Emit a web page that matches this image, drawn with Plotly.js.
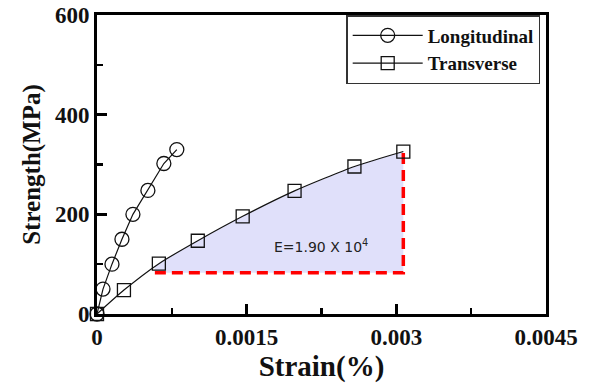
<!DOCTYPE html>
<html>
<head>
<meta charset="utf-8">
<script src="https://cdn.plot.ly/plotly-3.0.1.min.js"></script>
<style>html,body{margin:0;padding:0;background:#fff;}#chart{width:593px;height:383px;}</style>
</head>
<body>
<div id="chart"></div>
<script>
// Longitudinal series
const longStrain = [0, 0.00006, 0.00015, 0.00025, 0.00036, 0.00051, 0.00067, 0.0008];
const longStrength = [0, 50, 100, 150, 200, 248, 302, 330];
// Transverse series
const transStrain = [0, 0.00027, 0.00062, 0.00101, 0.00146, 0.00198, 0.00258, 0.00307];
const transStrength = [0, 48, 101, 147, 196, 247, 296, 326];
// Modulus triangle (red dashed) corners
const triStartStrain = 0.00058;
const triBaseStrength = 83;
const modulusLabel = 'E=1.90 X 10<sup>4</sup>';
// Tick labels
const xTickVals = [0, 0.0015, 0.003, 0.0045];
const xTickText = ['0', '0.0015', '0.003', '0.0045'];
const yTickVals = [0, 200, 400, 600];
const yTickText = ['0', '200', '400', '600'];

// build shaded region from transverse data
const last = transStrain.length - 1;
let i0 = transStrain.findIndex(v => v >= triStartStrain);
const startY = transStrength[i0-1] + (transStrength[i0]-transStrength[i0-1])*(triStartStrain-transStrain[i0-1])/(transStrain[i0]-transStrain[i0-1]);
const shadeX = [triStartStrain].concat(transStrain.slice(i0)).concat([transStrain[last], triStartStrain]);
const shadeY = [startY].concat(transStrength.slice(i0)).concat([triBaseStrength, triBaseStrength]);

const serif = '"Liberation Serif", "Times New Roman", serif';

const traces = [
  {x: shadeX, y: shadeY, type: 'scatter', mode: 'lines', fill: 'toself',
   fillcolor: 'rgba(224,224,250,1)', line: {width: 0}, hoverinfo: 'skip', showlegend: false},
  {x: [triStartStrain, transStrain[last], transStrain[last]], y: [triBaseStrength, triBaseStrength, transStrength[last]],
   type: 'scatter', mode: 'lines', line: {color: '#ff0000', width: 3.5, dash: '11px,6px'}, showlegend: false, hoverinfo: 'skip'},
  {x: longStrain, y: longStrength, name: 'Longitudinal', type: 'scatter', mode: 'lines+markers',
   line: {color: '#111', width: 1.2},
   marker: {symbol: 'circle-open', size: 14, color: '#111', line: {width: 1.3}}, cliponaxis: false},
  {x: transStrain, y: transStrength, name: 'Transverse', type: 'scatter', mode: 'lines+markers',
   line: {color: '#111', width: 1.2, shape: 'spline', smoothing: 0.6},
   marker: {symbol: 'square-open', size: 13, color: '#111', line: {width: 1.3}}, cliponaxis: false}
];

const layout = {
  width: 593, height: 383,
  margin: {l: 97, r: 47, t: 15, b: 69},
  paper_bgcolor: '#fff', plot_bgcolor: '#fff',
  showlegend: true,
  legend: {x: 0.555, y: 1, xanchor: 'left', yanchor: 'top', bordercolor: '#333', borderwidth: 1.5,
           bgcolor: '#fff', font: {family: serif, size: 19, color: '#111', weight: 'bold'},
           itemwidth: 70, tracegroupgap: 0},
  xaxis: {range: [0, 0.0045], tickvals: xTickVals, ticktext: xTickText,
          ticks: 'inside', ticklen: 10, tickwidth: 2.5, tickcolor: '#000',
          showline: true, linewidth: 3, linecolor: '#000', mirror: true, showgrid: false, zeroline: false,
          tickfont: {family: serif, size: 23, color: '#111', weight: 'bold'},
          minor: {dtick: 0.00075, ticks: 'inside', ticklen: 6, tickwidth: 2.5, tickcolor: '#000', showgrid: false},
          title: {text: 'Strain(%)', font: {family: serif, size: 29, color: '#111', weight: 'bold'}, standoff: 4}},
  yaxis: {range: [0, 600], tickvals: yTickVals, ticktext: yTickText,
          ticks: 'inside', ticklen: 10, tickwidth: 2.5, tickcolor: '#000',
          showline: true, linewidth: 3, linecolor: '#000', mirror: true, showgrid: false, zeroline: false,
          tickfont: {family: serif, size: 23, color: '#111', weight: 'bold'},
          minor: {dtick: 100, ticks: 'inside', ticklen: 6, tickwidth: 2.5, tickcolor: '#000', showgrid: false},
          title: {text: 'Strength(MPa)', font: {family: serif, size: 25, color: '#111', weight: 'bold'}, standoff: 8}},
  annotations: [
    {x: 0.00224, y: 137, xref: 'x', yref: 'y', text: modulusLabel, showarrow: false,
     font: {family: '"DejaVu Sans", sans-serif', size: 14, color: '#222'}}
  ]
};

Plotly.newPlot('chart', traces, layout, {displayModeBar: false, staticPlot: true});
</script>
</body>
</html>
